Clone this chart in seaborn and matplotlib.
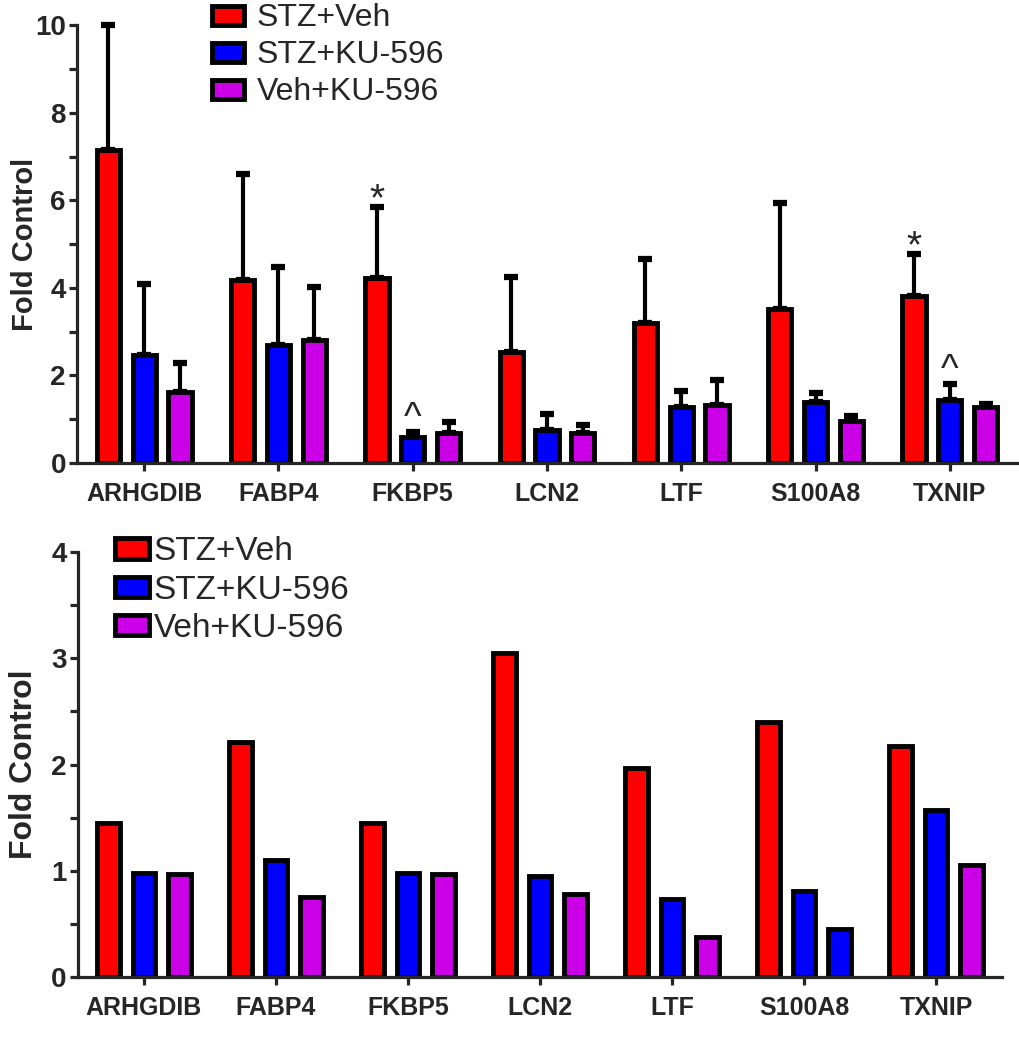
import numpy as np
import pandas as pd
import seaborn as sns
import matplotlib.pyplot as plt
from matplotlib.patches import Patch
from matplotlib.ticker import MultipleLocator

genes = ['ARHGDIB', 'FABP4', 'FKBP5', 'LCN2', 'LTF', 'S100A8', 'TXNIP']
groups = ['STZ+Veh', 'STZ+KU-596', 'Veh+KU-596']
colors = {'STZ+Veh': '#FF0000', 'STZ+KU-596': '#0000FF', 'Veh+KU-596': '#CC00E6'}

# top panel: means and upper error (SEM) values
top_stz_veh = [7.15, 4.18, 4.22, 2.54, 3.20, 3.51, 3.81]
top_stz_ku = [2.47, 2.69, 0.60, 0.75, 1.29, 1.40, 1.44]
top_veh_ku = [1.62, 2.81, 0.68, 0.68, 1.32, 0.95, 1.27]
top_err_stz_veh = [2.85, 2.42, 1.62, 1.71, 1.45, 2.44, 0.96]
top_err_stz_ku = [1.63, 1.79, 0.11, 0.37, 0.36, 0.19, 0.37]
top_err_veh_ku = [0.66, 1.21, 0.26, 0.19, 0.58, 0.13, 0.07]

# bottom panel
bot_stz_veh = [1.45, 2.21, 1.45, 3.05, 1.97, 2.40, 2.17]
bot_stz_ku = [0.98, 1.10, 0.98, 0.95, 0.73, 0.81, 1.57]
bot_veh_ku = [0.97, 0.75, 0.97, 0.78, 0.38, 0.45, 1.05]

# significance marks: (gene, group, symbol)
marks = [('FKBP5', 'STZ+Veh', '*'), ('TXNIP', 'STZ+Veh', '*'),
         ('FKBP5', 'STZ+KU-596', '^'), ('TXNIP', 'STZ+KU-596', '^')]

sns.set_style('ticks')
plt.rcParams['font.family'] = ['Liberation Sans', 'DejaVu Sans']

def long_df(a, b, c):
    return pd.DataFrame({'gene': genes * 3,
                         'group': np.repeat(groups, len(genes)),
                         'value': a + b + c})

def style_axis(ax, ymax, major, minor, tsize, ytsize):
    ax.set_ylim(0, ymax)
    ax.set_xlim(-0.5, 6.5)
    ax.yaxis.set_major_locator(MultipleLocator(major))
    ax.yaxis.set_minor_locator(MultipleLocator(minor))
    sns.despine(ax=ax)
    for s in ['left', 'bottom']:
        ax.spines[s].set_linewidth(2.3)
    ax.tick_params(axis='both', which='both', width=2.3, length=6, direction='out')
    ax.tick_params(axis='x', which='minor', bottom=False)
    ax.tick_params(axis='x', which='major', pad=8)
    ax.tick_params(axis='y', which='major', pad=2)
    ax.set_xlabel('')
    for lab in ax.get_xticklabels():
        lab.set_fontweight('bold')
        lab.set_fontsize(tsize)
    for lab in ax.get_yticklabels():
        lab.set_fontweight('bold')
        lab.set_fontsize(ytsize)

fig = plt.figure(figsize=(10.19, 10.5), dpi=100)
ax1 = fig.add_axes([0.0756, 0.559, 0.9224, 0.417])
ax2 = fig.add_axes([0.0765, 0.0695, 0.9068, 0.4047])

# ---- top panel ----
df_top = long_df(top_stz_veh, top_stz_ku, top_veh_ku)
sns.barplot(data=df_top, x='gene', y='value', hue='group', order=genes,
            hue_order=groups, palette=colors, saturation=1, edgecolor='black',
            linewidth=3.5, gap=0.35, errorbar=None, legend=False, ax=ax1)
errs = [top_err_stz_veh, top_err_stz_ku, top_err_veh_ku]
means = [top_stz_veh, top_stz_ku, top_veh_ku]
bar_conts = list(ax1.containers)
bar_x = {}
for i, cont in enumerate(bar_conts):
    xs = [p.get_x() + p.get_width() / 2 for p in cont]
    for g, xx in zip(genes, xs):
        bar_x[(g, groups[i])] = xx
    ax1.errorbar(xs, means[i], yerr=[np.zeros(len(genes)), errs[i]], fmt='none',
                 ecolor='black', elinewidth=3, capsize=5, capthick=4.5,
                 zorder=0.5, clip_on=False)
for g, grp, sym in marks:
    k = groups.index(grp)
    j = genes.index(g)
    top = means[k][j] + errs[k][j]
    ax1.annotate(sym, xy=(bar_x[(g, grp)], top),
                 xytext=(0, -2 if sym == '*' else 2),
                 textcoords='offset points', ha='center', va='baseline',
                 fontsize=28 if sym == '*' else 27)
style_axis(ax1, 10, 2, 1, 18, 20)
ax1.set_ylabel('Fold Control', fontsize=21, fontweight='bold')
ax1.yaxis.set_label_coords(-0.04, 0.5)
h1 = [Patch(facecolor=colors[g], edgecolor='black', linewidth=3.5) for g in groups]
ax1.legend(h1, groups, loc='upper left', bbox_to_anchor=(0.14, 1.057),
           frameon=False, fontsize=23, handlelength=1.0, handleheight=0.55,
           handletextpad=0.4, labelspacing=0.22, borderaxespad=0, borderpad=0.1)

# ---- bottom panel ----
df_bot = long_df(bot_stz_veh, bot_stz_ku, bot_veh_ku)
sns.barplot(data=df_bot, x='gene', y='value', hue='group', order=genes,
            hue_order=groups, palette=colors, saturation=1, edgecolor='black',
            linewidth=3.5, gap=0.35, errorbar=None, legend=False, ax=ax2)
# third S100A8 bar is blue in the original
ax2.containers[2][genes.index('S100A8')].set_facecolor(colors['STZ+KU-596'])
style_axis(ax2, 4, 1, 0.5, 18, 20)
ax2.set_ylabel('Fold Control', fontsize=23, fontweight='bold')
ax2.yaxis.set_label_coords(-0.042, 0.5)
h2 = [Patch(facecolor=colors[g], edgecolor='black', linewidth=3.5) for g in groups]
ax2.legend(h2, groups, loc='upper left', bbox_to_anchor=(0.037, 1.045),
           frameon=False, fontsize=24, handlelength=1.0, handleheight=0.55,
           handletextpad=0.15, labelspacing=0.22, borderaxespad=0, borderpad=0.1)

fig.savefig('out.png', dpi=100)
